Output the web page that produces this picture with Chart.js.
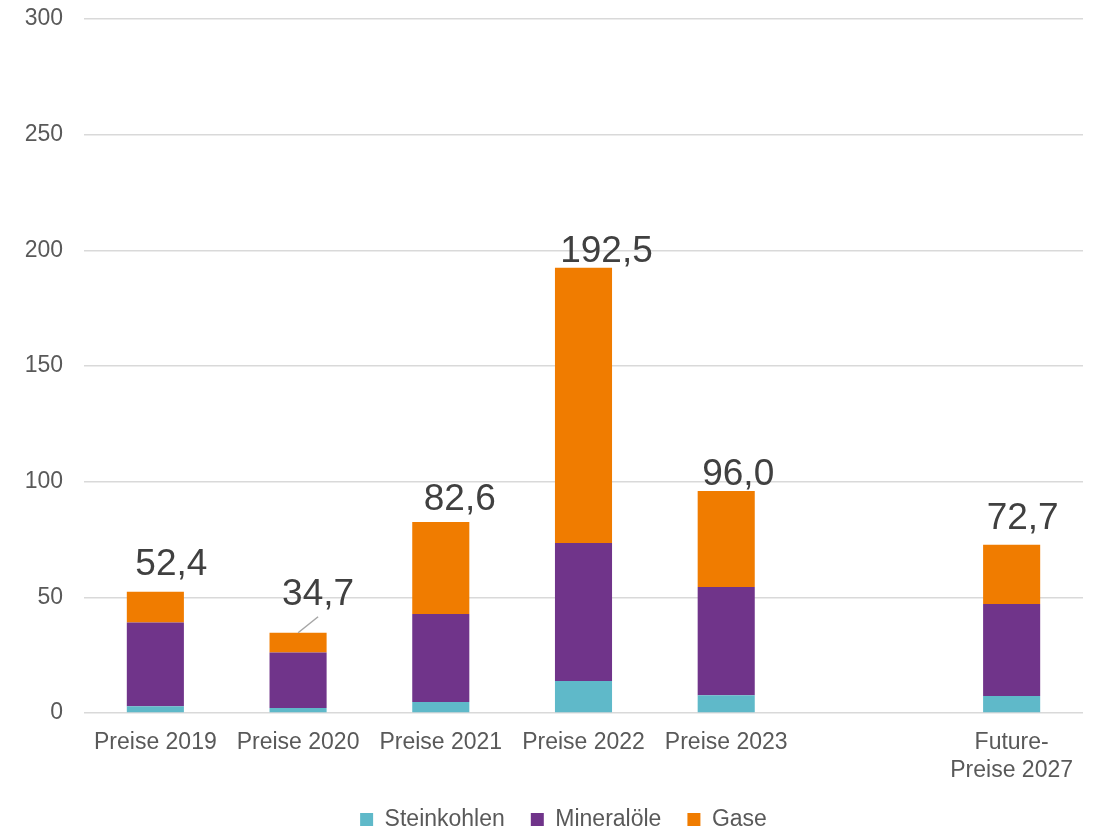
<!DOCTYPE html>
<html>
<head>
<meta charset="utf-8">
<script src="https://cdn.jsdelivr.net/npm/chart.js@4.4.1/dist/chart.umd.min.js"></script>
<style>
  html, body { margin: 0; padding: 0; background: #ffffff; }
  #wrap { width: 1094px; height: 830px; position: relative; }
</style>
</head>
<body>
<div id="wrap"><canvas id="c" width="1094" height="830"></canvas></div>
<script>
const categories = ['Preise 2019', 'Preise 2020', 'Preise 2021', 'Preise 2022', 'Preise 2023', '', ['Future-', 'Preise 2027']];
const steinkohlen = [2.9, 2.2, 4.8, 13.8, 7.7, null, 7.4];
const mineraloele = [36.2, 23.9, 38.0, 59.7, 46.8, null, 39.7];
const gase = [13.3, 8.6, 39.8, 119.0, 41.5, null, 25.6];
const totals = [52.4, 34.7, 82.6, 192.5, 96.0, null, 72.7];
const yTicks = [0, 50, 100, 150, 200, 250, 300];

const FONT = "'Liberation Sans', Arial, sans-serif";

// label placement relative to the top of each stack: [dx, gap, leader]
const labelPlacement = [[16, 17, false], [20, 28, true], [19, 12, false], [23, 6, false], [12, 6, false], null, [11, 16, false]];

const totalLabels = {
  id: 'totalLabels',
  afterDatasetsDraw(chart) {
    const ctx = chart.ctx;
    const meta = chart.getDatasetMeta(2);
    ctx.save();
    ctx.font = '37px ' + FONT;
    ctx.fillStyle = '#404040';
    ctx.textAlign = 'center';
    ctx.textBaseline = 'alphabetic';
    totals.forEach((t, i) => {
      if (t == null) return;
      const el = meta.data[i];
      const p = labelPlacement[i];
      const x = el.x + p[0];
      const yBase = el.y - p[1];
      const txt = t.toLocaleString('de-DE', {minimumFractionDigits: 1, maximumFractionDigits: 1});
      ctx.fillText(txt, x, yBase);
      if (p[2]) {
        ctx.strokeStyle = '#A6A6A6';
        ctx.lineWidth = 1.5;
        ctx.beginPath();
        ctx.moveTo(el.x, el.y);
        ctx.lineTo(el.x + p[0], el.y - 16);
        ctx.stroke();
      }
    });
    ctx.restore();
  }
};

const legendShift = {
  id: 'legendShift',
  afterLayout(chart) {
    if (chart.legend) { chart.legend.left += 22; chart.legend.right += 22; }
  }
};

new Chart(document.getElementById('c'), {
  type: 'bar',
  data: {
    labels: categories,
    datasets: [
      { label: 'Steinkohlen', data: steinkohlen, backgroundColor: '#5FB9C9' },
      { label: 'Mineralöle', data: mineraloele, backgroundColor: '#70348A' },
      { label: 'Gase', data: gase, backgroundColor: '#F07C00' }
    ]
  },
  options: {
    responsive: false,
    animation: false,
    devicePixelRatio: 1,
    layout: { padding: { left: 0, right: 11, top: 19, bottom: -11 } },
    datasets: { bar: { barPercentage: 0.5, categoryPercentage: 0.8, borderWidth: 0 } },
    scales: {
      x: {
        stacked: true,
        afterFit(scale) { scale.height = 69; },
        grid: { display: false, drawTicks: false },
        border: { display: false },
        ticks: { color: '#595959', font: { family: FONT, size: 23 }, padding: 16, maxRotation: 0, autoSkip: false }
      },
      y: {
        stacked: true,
        min: 0, max: 300,
        afterBuildTicks(scale) { scale.ticks = yTicks.map(v => ({ value: v })); },
        afterFit(scale) { scale.width = 84; scale.paddingTop = 0; scale.paddingBottom = 0; },
        grid: { color: '#D9D9D9', lineWidth: 1.5, drawTicks: false },
        border: { display: false },
        ticks: { color: '#595959', font: { family: FONT, size: 23 }, padding: 21 }
      }
    },
    plugins: {
      legend: {
        position: 'bottom',
        labels: {
          color: '#595959',
          font: { family: FONT, size: 23 },
          boxWidth: 13, boxHeight: 13,
          padding: 26
        }
      },
      tooltip: { enabled: false }
    }
  },
  plugins: [totalLabels, legendShift]
});
</script>
</body>
</html>
